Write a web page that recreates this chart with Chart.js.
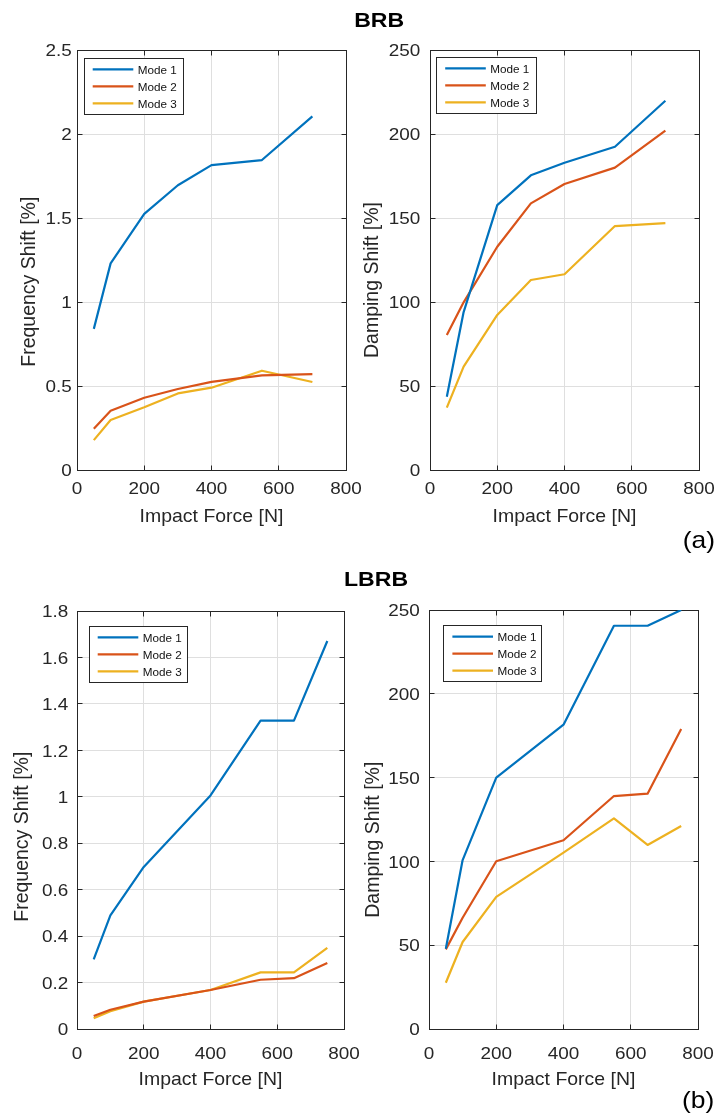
<!DOCTYPE html>
<html>
<head>
<meta charset="utf-8">
<script src="https://cdn.jsdelivr.net/npm/chart.js@4.4.1/dist/chart.umd.min.js"></script>
<style>
  html, body { margin: 0; padding: 0; background: #fff; }
  #fig { position: relative; width: 717px; height: 1116px; overflow: hidden; background: #fff; }
  #fig canvas { position: absolute; left: 0; top: 0; }
</style>
</head>
<body>
<div id="fig">
  <canvas id="brbFreq" width="717" height="1116"></canvas>
  <canvas id="brbDamp" width="717" height="1116"></canvas>
  <canvas id="lbrbFreq" width="717" height="1116"></canvas>
  <canvas id="lbrbDamp" width="717" height="1116"></canvas>
</div>
<script>
// Impact force levels [N]
const forceBRB  = [50, 100, 200, 300, 400, 550, 700];
const forceLBRB = [50, 100, 200, 400, 550, 650, 750];

const modeNames  = ['Mode 1', 'Mode 2', 'Mode 3'];
const modeColors = ['#0072BD', '#D95319', '#EDB120'];

// (a) BRB – frequency shift [%]
const brbFreqMode1 = [0.84, 1.23, 1.525, 1.695, 1.815, 1.845, 2.105];
const brbFreqMode2 = [0.245, 0.353, 0.43, 0.482, 0.525, 0.563, 0.571];
const brbFreqMode3 = [0.178, 0.298, 0.373, 0.456, 0.49, 0.591, 0.524];

// (a) BRB – damping shift [%]
const brbDampMode1 = [43.6, 94, 157.7, 175.4, 182.9, 192.4, 219.8];
const brbDampMode2 = [80.4, 99.8, 132.9, 158.7, 170.2, 180.0, 202.0];
const brbDampMode3 = [37.1, 61.5, 92.3, 113.1, 116.5, 145.2, 147.0];

// (b) LBRB – frequency shift [%]
const lbrbFreqMode1 = [0.30, 0.489, 0.698, 1.006, 1.328, 1.328, 1.671];
const lbrbFreqMode2 = [0.056, 0.083, 0.118, 0.168, 0.212, 0.219, 0.284];
const lbrbFreqMode3 = [0.046, 0.077, 0.118, 0.168, 0.244, 0.244, 0.349];

// (b) LBRB – damping shift [%]
const lbrbDampMode1 = [47.9, 100.8, 150.0, 181.6, 240.6, 240.6, 250.0];
const lbrbDampMode2 = [47.5, 66.4, 100.1, 112.6, 139.0, 140.4, 179.0];
const lbrbDampMode3 = [27.6, 51.9, 78.8, 105.2, 125.7, 109.8, 121.1];

// Tick values
const forceTicks     = [0, 200, 400, 600, 800];
const freqTicksBRB   = [0, 0.5, 1, 1.5, 2, 2.5];
const freqTicksLBRB  = [0, 0.2, 0.4, 0.6, 0.8, 1, 1.2, 1.4, 1.6, 1.8];
const dampTicks      = [0, 50, 100, 150, 200, 250];

const xTitle = 'Impact Force [N]';
const freqTitle = 'Frequency Shift [%]';
const dampTitle = 'Damping Shift [%]';

const FONT = '"Liberation Sans", Arial, Helvetica, sans-serif';
const INK = '#262626';
const W = 717, H = 1116;

function drawText(ctx, str, x, y, o) {
  ctx.save();
  ctx.translate(x, y);
  if (o.rotate) ctx.rotate(-Math.PI / 2);
  ctx.scale(o.sx || 1, 1);
  ctx.font = (o.bold ? 'bold ' : '') + o.size + 'px ' + FONT;
  ctx.fillStyle = o.color || INK;
  ctx.textAlign = o.align || 'center';
  ctx.textBaseline = 'alphabetic';
  ctx.fillText(str, 0, 0);
  ctx.restore();
}

function fmt(v) { return String(parseFloat(v.toFixed(3))); }

const crisp = p => Math.round(p - 0.5) + 0.5;

// Box, inward ticks, tick labels, axis labels and legend in a MATLAB-like style
const matlabAxes = {
  id: 'matlabAxes',
  beforeDatasetsDraw(chart, args, o) {
    const ctx = chart.ctx, a = chart.chartArea;
    const xs = chart.scales.x, ys = chart.scales.y;
    const L = crisp(a.left), R = crisp(a.right), T = crisp(a.top), B = crisp(a.bottom);
    ctx.save();
    ctx.strokeStyle = INK;
    ctx.lineWidth = 1;
    ctx.beginPath();
    xs.ticks.forEach(t => {
      const px = crisp(xs.getPixelForValue(t.value));
      ctx.moveTo(px, B); ctx.lineTo(px, B - 5);
      ctx.moveTo(px, T); ctx.lineTo(px, T + 5);
    });
    ys.ticks.forEach(t => {
      const py = crisp(ys.getPixelForValue(t.value));
      ctx.moveTo(L, py); ctx.lineTo(L + 5, py);
      ctx.moveTo(R, py); ctx.lineTo(R - 5, py);
    });
    ctx.stroke();
    ctx.strokeRect(L, T, R - L, B - T);
    ctx.restore();
  },
  afterDraw(chart, args, o) {
    const ctx = chart.ctx, a = chart.chartArea;
    const xs = chart.scales.x, ys = chart.scales.y;
    // tick labels
    xs.ticks.forEach(t => {
      drawText(ctx, fmt(t.value), xs.getPixelForValue(t.value), o.xTickBase,
        { size: 17.2, sx: 1.1 });
    });
    ys.ticks.forEach(t => {
      drawText(ctx, fmt(t.value), o.yTickRight, ys.getPixelForValue(t.value) + 6.2,
        { size: 17.2, sx: 1.1, align: 'right' });
    });
    // axis titles
    drawText(ctx, o.xTitle, (a.left + a.right) / 2, o.xTitleBase, { size: 17.7, sx: 1.1 });
    drawText(ctx, o.yTitle, o.yTitleX, o.yTitleY, { size: 19.5, rotate: true });
    // legend
    const lg = o.legend;
    ctx.save();
    ctx.fillStyle = '#fff';
    ctx.fillRect(lg.x, lg.y, lg.w, lg.h);
    ctx.strokeStyle = INK;
    ctx.lineWidth = 1;
    ctx.strokeRect(crisp(lg.x), crisp(lg.y), Math.round(lg.w), Math.round(lg.h));
    chart.data.datasets.forEach((ds, i) => {
      const cy = lg.y + 11.3 + i * 17;
      ctx.strokeStyle = ds.borderColor;
      ctx.lineWidth = 2.2;
      ctx.beginPath();
      ctx.moveTo(lg.x + 8.7, cy);
      ctx.lineTo(lg.x + 49.3, cy);
      ctx.stroke();
      drawText(ctx, ds.label, lg.x + 53.7, cy + 4.2, { size: 11.7, align: 'left', color: '#111' });
    });
    ctx.restore();
    // panel headings
    (o.extra || []).forEach(e => drawText(ctx, e.text, e.x, e.y, e.style));
  }
};

function makePanel(id, cfg) {
  const a = cfg.area;
  const datasets = cfg.series.map((ys, i) => ({
    label: modeNames[i],
    data: cfg.force.map((x, k) => ({ x: x, y: ys[k] })),
    borderColor: modeColors[i],
    backgroundColor: modeColors[i],
    borderWidth: 2.2,
    pointRadius: 0,
    tension: 0,
    fill: false,
    borderJoinStyle: 'round'
  }));
  const grid = { color: '#dfdfdf', lineWidth: 1, drawTicks: false };
  return new Chart(document.getElementById(id), {
    type: 'line',
    data: { datasets },
    plugins: [matlabAxes],
    options: {
      responsive: false,
      animation: false,
      devicePixelRatio: 1,
      layout: {
        autoPadding: false,
        padding: { left: a.l, top: a.t, right: W - a.r, bottom: H - a.b }
      },
      scales: {
        x: {
          type: 'linear', min: 0, max: 800,
          afterBuildTicks: s => { s.ticks = forceTicks.map(v => ({ value: v })); },
          afterFit: s => { s.height = 0; },
          ticks: { display: false },
          grid, border: { display: false }
        },
        y: {
          type: 'linear', min: cfg.yTicks[0], max: cfg.yTicks[cfg.yTicks.length - 1],
          afterBuildTicks: s => { s.ticks = cfg.yTicks.map(v => ({ value: v })); },
          afterFit: s => { s.width = 0; },
          ticks: { display: false },
          grid, border: { display: false }
        }
      },
      plugins: {
        legend: { display: false },
        tooltip: { enabled: false },
        matlabAxes: cfg.axes
      }
    }
  });
}

const headStyle = { size: 21, bold: true, sx: 1.1, color: '#000' };
const tagStyle = { size: 24, sx: 1.1, align: 'left', color: '#000' };

makePanel('brbFreq', {
  area: { l: 77, t: 50, r: 346, b: 470 },
  force: forceBRB,
  series: [brbFreqMode1, brbFreqMode2, brbFreqMode3],
  yTicks: freqTicksBRB,
  axes: {
    xTickBase: 494, yTickRight: 71.7, xTitle: xTitle, xTitleBase: 521.7,
    yTitle: freqTitle, yTitleX: 35.2, yTitleY: 281.7,
    legend: { x: 84, y: 58, w: 99, h: 56 },
    extra: [
      { text: 'BRB', x: 379.2, y: 26.7, style: headStyle },
      { text: '(a)', x: 682.7, y: 548, style: tagStyle }
    ]
  }
});

makePanel('brbDamp', {
  area: { l: 430, t: 50, r: 699, b: 470 },
  force: forceBRB,
  series: [brbDampMode1, brbDampMode2, brbDampMode3],
  yTicks: dampTicks,
  axes: {
    xTickBase: 494, yTickRight: 420.3, xTitle: xTitle, xTitleBase: 521.7,
    yTitle: dampTitle, yTitleX: 377.9, yTitleY: 280,
    legend: { x: 436.5, y: 57, w: 100, h: 56 }
  }
});

makePanel('lbrbFreq', {
  area: { l: 77, t: 611, r: 344, b: 1029 },
  force: forceLBRB,
  series: [lbrbFreqMode1, lbrbFreqMode2, lbrbFreqMode3],
  yTicks: freqTicksLBRB,
  axes: {
    xTickBase: 1059.3, yTickRight: 68.3, xTitle: xTitle, xTitleBase: 1085.3,
    yTitle: freqTitle, yTitleX: 27.6, yTitleY: 836.7,
    legend: { x: 89, y: 626, w: 98, h: 56 },
    extra: [
      { text: 'LBRB', x: 376, y: 586, style: headStyle },
      { text: '(b)', x: 682, y: 1107.5, style: tagStyle }
    ]
  }
});

makePanel('lbrbDamp', {
  area: { l: 429, t: 610, r: 698, b: 1029 },
  force: forceLBRB,
  series: [lbrbDampMode1, lbrbDampMode2, lbrbDampMode3],
  yTicks: dampTicks,
  axes: {
    xTickBase: 1059.3, yTickRight: 419.7, xTitle: xTitle, xTitleBase: 1085.3,
    yTitle: dampTitle, yTitleX: 378.9, yTitleY: 839.7,
    legend: { x: 443.7, y: 625.3, w: 98, h: 56 }
  }
});
</script>
</body>
</html>
